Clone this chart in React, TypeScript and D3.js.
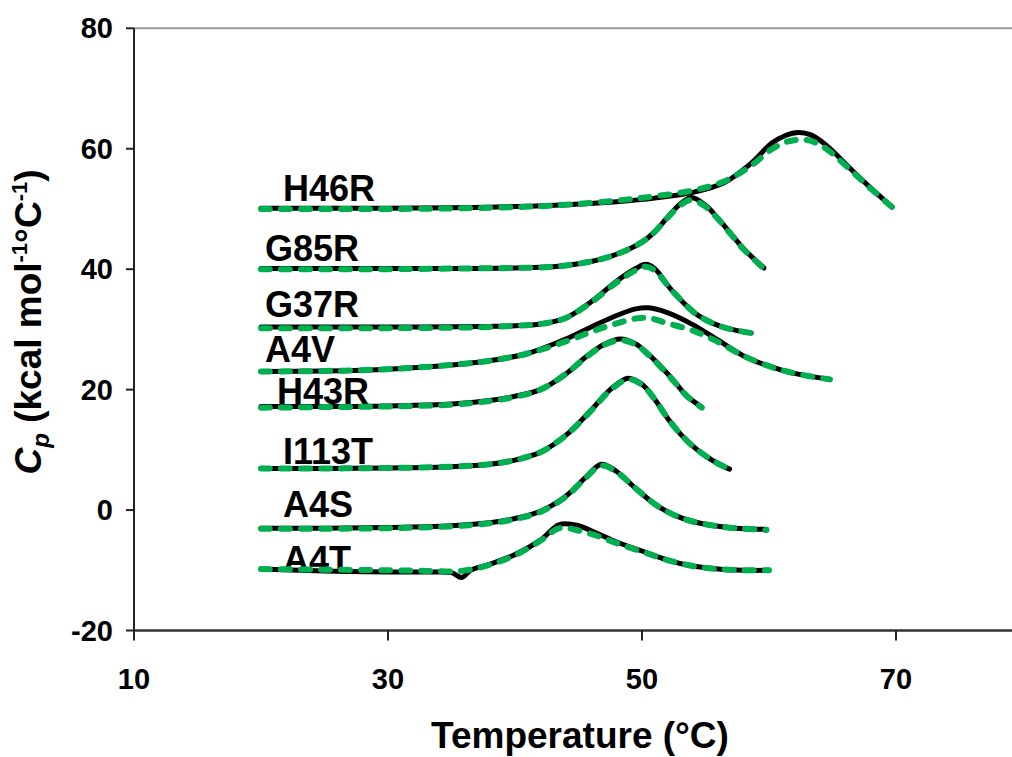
import React from "react";
import * as d3 from "d3";

// ---- Data (Temperature °C, Cp kcal mol-1 °C-1) ----
const seriesNames = ["H46R", "G85R", "G37R", "A4V", "H43R", "I113T", "A4S", "A4T"];

const tH46R = [20, 25, 30, 35, 40, 44, 48, 51, 54.1, 56.5, 58.6, 60.2, 61.3, 62.3, 63.3, 64.5, 66.5, 68, 69.7];
const cpH46R = [50.1, 50.1, 50.1, 50.2, 50.4, 50.7, 51.2, 51.8, 52.8, 54.4, 57.6, 60.9, 62.2, 62.7, 62.3, 60.6, 56.5, 53.5, 50.3];
const fitH46R = [50.0, 50.0, 50.0, 50.1, 50.3, 50.7, 51.4, 52.1, 53.1, 54.6, 57.2, 59.9, 61.1, 61.5, 61.3, 60.0, 56.3, 53.4, 50.3];

const tG85R = [20, 25, 30, 35, 40, 43, 45, 47, 48.5, 50, 51, 52, 53, 53.9, 55, 56, 57, 58, 59.6];
const cpG85R = [40.1, 40.1, 40.1, 40.1, 40.2, 40.4, 40.9, 41.8, 42.9, 44.5, 46.2, 48.6, 50.8, 51.9, 50.6, 48.4, 45.9, 43.4, 40.2];
const fitG85R = [40.0, 40.0, 40.0, 40.1, 40.2, 40.4, 40.9, 41.8, 42.9, 44.5, 46.2, 48.5, 50.6, 51.5, 50.4, 48.3, 45.8, 43.3, 40.1];

const tG37R = [20, 30, 38, 40, 42, 44, 46, 48, 49.5, 50.3, 51, 52.3, 54.1, 55, 56.2, 57.5, 58.6];
const cpG37R = [30.4, 30.4, 30.5, 30.6, 30.9, 31.9, 34.6, 38.0, 40.1, 40.8, 40.1, 36.6, 32.8, 31.6, 30.5, 29.8, 29.4];
const fitG37R = [30.2, 30.2, 30.4, 30.6, 30.9, 31.9, 34.5, 37.8, 39.8, 40.4, 39.8, 36.6, 32.8, 31.6, 30.5, 29.8, 29.4];

const tA4V = [20, 25, 30, 35, 38, 41, 44, 46, 48, 49.5, 50.5, 52, 54, 56, 58, 60, 62, 64.8];
const cpA4V = [23.0, 23.1, 23.4, 24.1, 24.8, 26.0, 28.4, 30.4, 32.3, 33.4, 33.6, 32.8, 30.8, 28.2, 25.6, 23.9, 22.7, 21.7];
const fitA4V = [23.0, 23.1, 23.4, 24.1, 24.8, 26.0, 28.0, 29.6, 31.0, 31.8, 31.9, 31.0, 29.8, 27.9, 25.6, 23.9, 22.7, 21.7];

const tH43R = [20, 25, 30, 35, 38, 40, 42, 44, 45.5, 47, 48.3, 49.5, 50.5, 51.5, 52.5, 53.5, 54.7];
const cpH43R = [17.2, 17.2, 17.3, 17.6, 18.2, 18.9, 20.0, 22.6, 25.3, 27.5, 28.4, 27.6, 25.9, 23.8, 21.5, 19.0, 17.1];
const fitH43R = [17.0, 17.1, 17.2, 17.5, 18.1, 18.8, 20.0, 22.6, 25.2, 27.4, 28.2, 27.5, 25.8, 23.7, 21.4, 19.0, 17.0];

const tI113T = [20, 25, 30, 35, 38, 40, 42, 44, 46, 47.5, 48.9, 50, 51, 52, 53, 54, 55, 56, 56.9];
const cpI113T = [6.9, 6.9, 7.0, 7.2, 7.6, 8.3, 9.6, 12.4, 16.6, 20.0, 21.9, 20.9, 18.4, 15.3, 12.7, 10.6, 9.0, 7.7, 6.8];
const fitI113T = [6.9, 6.9, 7.0, 7.2, 7.6, 8.3, 9.6, 12.4, 16.5, 19.9, 21.7, 20.8, 18.4, 15.3, 12.7, 10.6, 9.0, 7.7, 6.8];

const tA4S = [20, 25, 30, 35, 38, 40, 42, 44, 45.5, 46.8, 48, 49.5, 51, 52.5, 54, 56, 58, 59.8];
const cpA4S = [-3.0, -3.0, -2.9, -2.6, -2.1, -1.4, -0.2, 2.3, 5.3, 7.6, 6.4, 3.6, 1.0, -0.8, -1.9, -2.7, -3.1, -3.2];
const fitA4S = [-3.1, -3.1, -3.0, -2.7, -2.2, -1.5, -0.3, 2.2, 5.2, 7.4, 6.3, 3.6, 1.0, -0.8, -1.9, -2.7, -3.1, -3.3];

const tA4T = [20, 25, 30, 33, 35, 35.8, 36.5, 38, 40, 42, 43.5, 45, 46.5, 48, 50, 52, 54, 56, 58, 60];
const cpA4T = [-9.8, -10.1, -10.3, -10.3, -10.4, -11.2, -10.0, -9.0, -7.4, -5.0, -2.4, -2.6, -3.9, -5.3, -6.8, -8.3, -9.3, -9.8, -10.0, -10.0];
const fitA4T = [-9.8, -9.9, -10.0, -10.1, -10.2, -10.1, -9.9, -9.1, -7.5, -5.1, -3.0, -3.4, -4.3, -5.5, -6.9, -8.3, -9.3, -9.8, -10.0, -10.0];

const temps = [tH46R, tG85R, tG37R, tA4V, tH43R, tI113T, tA4S, tA4T];
const dataCp = [cpH46R, cpG85R, cpG37R, cpA4V, cpH43R, cpI113T, cpA4S, cpA4T];
const fitCp = [fitH46R, fitG85R, fitG37R, fitA4V, fitH43R, fitI113T, fitA4S, fitA4T];

const xTicks = [10, 30, 50, 70];
const yTicks = [80, 60, 40, 20, 0, -20];

// label offsets in pixels from first data point
const labelOffsets: [number, number][] = [
  [22, -7], [4, -8], [4, -10], [4, -10], [16, -2], [22, -5], [22, -11], [22, 3],
];

const W = 1012;
const H = 757;
const FONT = "'Liberation Sans', Arial, sans-serif";

export default function App() {
  const x = d3.scaleLinear().domain([10, 80]).range([134, 1023]);
  const y = d3.scaleLinear().domain([-20, 80]).range([630.5, 28.3]);
  const line = d3
    .line<[number, number]>()
    .x((d) => x(d[0]))
    .y((d) => y(d[1]))
    .curve(d3.curveCatmullRom.alpha(0.5));

  return (
    <div style={{ position: "absolute", left: 0, top: 0 }}>
      <svg width={W} height={H} style={{ display: "block", background: "#fff" }}>
        {/* frame */}
        <line x1={x(10)} x2={W} y1={y(80)} y2={y(80)} stroke="#9a9a9a" strokeWidth={2} />
        <line x1={x(10)} x2={x(10)} y1={y(80)} y2={y(-20)} stroke="#222" strokeWidth={2} />
        <line x1={x(10) - 1} x2={W} y1={y(-20)} y2={y(-20)} stroke="#333" strokeWidth={2.5} />
        {yTicks.map((t) => (
          <g key={"y" + t}>
            <line x1={x(10) - 8} x2={x(10)} y1={y(t)} y2={y(t)} stroke="#222" strokeWidth={2} />
            <text
              x={113}
              y={y(t) + 10}
              textAnchor="end"
              fontFamily={FONT}
              fontWeight="bold"
              fontSize={29}
              fill="#000"
            >
              {t}
            </text>
          </g>
        ))}
        {xTicks.map((t) => (
          <g key={"x" + t}>
            <line x1={x(t)} x2={x(t)} y1={y(-20)} y2={y(-20) + 10} stroke="#222" strokeWidth={2} />
            <text
              x={x(t)}
              y={689}
              textAnchor="middle"
              fontFamily={FONT}
              fontWeight="bold"
              fontSize={29}
              fill="#000"
            >
              {t}
            </text>
          </g>
        ))}

        {/* series labels */}
        {seriesNames.map((name, i) => (
          <text
            key={"l" + name}
            x={x(temps[i][0]) + labelOffsets[i][0]}
            y={y(dataCp[i][0]) + labelOffsets[i][1]}
            fontFamily={FONT}
            fontWeight="bold"
            fontSize={36}
            fill="#000"
          >
            {name}
          </text>
        ))}

        {/* curves */}
        {seriesNames.map((name, i) => {
          const pts = temps[i].map((t, j) => [t, dataCp[i][j]] as [number, number]);
          const fpts = temps[i].map((t, j) => [t, fitCp[i][j]] as [number, number]);
          return (
            <g key={"c" + name}>
              <path d={line(pts) || ""} fill="none" stroke="#000" strokeWidth={5} strokeLinecap="round" strokeLinejoin="round" />
              <path
                d={line(fpts) || ""}
                fill="none"
                stroke="#00B050"
                strokeWidth={6}
                strokeDasharray="9,11"
                strokeLinecap="round"
              />
            </g>
          );
        })}

        {/* axis titles */}
        <text
          x={580}
          y={748}
          textAnchor="middle"
          fontFamily={FONT}
          fontWeight="bold"
          fontSize={37}
          fill="#000"
        >
          Temperature (°C)
        </text>
        <text
          transform="translate(41,322) rotate(-90)"
          textAnchor="middle"
          fontFamily={FONT}
          fontWeight="bold"
          fontSize={37}
          fill="#000"
        >
          <tspan fontStyle="italic">C</tspan>
          <tspan fontStyle="italic" fontSize={24} dy={8}>p</tspan>
          <tspan dy={-8}> (kcal mol</tspan>
          <tspan fontSize={22} dy={-14}>-1</tspan>
          <tspan dy={14}>°C</tspan>
          <tspan fontSize={22} dy={-14}>-1</tspan>
          <tspan dy={14}>)</tspan>
        </text>
      </svg>
    </div>
  );
}
